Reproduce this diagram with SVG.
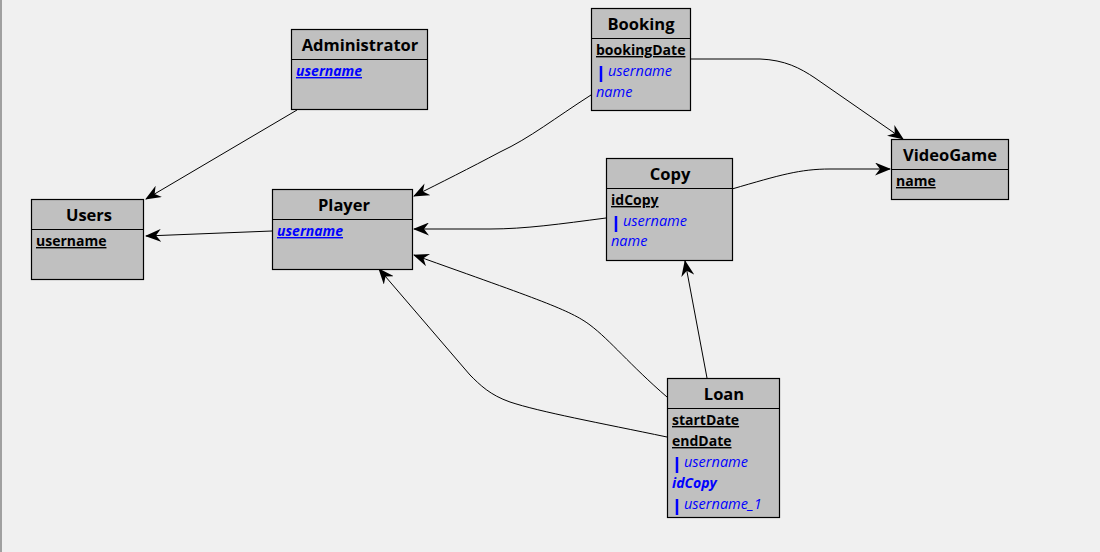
<svg xmlns="http://www.w3.org/2000/svg" width="1100" height="552" viewBox="0 0 1100 552">
<style>
.box{fill:#c0c0c0;stroke:#000;stroke-width:1.2}
.div{stroke:#000;stroke-width:1.2}
.title{font-family:"Open Sans","Noto Sans",sans-serif;font-weight:bold;font-size:16.5px;fill:#000;text-anchor:middle}
.pk{font-family:"Open Sans","Noto Sans",sans-serif;font-weight:bold;font-size:14px;fill:#000;text-decoration:underline}
.fk{font-family:"Open Sans","Noto Sans",sans-serif;font-style:italic;font-size:14.5px;fill:#0000ff}
.pkfk{font-family:"Open Sans","Noto Sans",sans-serif;font-style:italic;font-weight:bold;font-size:14px;fill:#0000ff;text-decoration:underline}
.fkb{font-family:"Open Sans","Noto Sans",sans-serif;font-style:italic;font-weight:bold;font-size:14px;fill:#0000ff}
.bar{stroke:#0000ff;stroke-width:2.5}
.edge{fill:none;stroke:#000;stroke-width:1}
</style>
<defs>
<marker id="arr" viewBox="0 0 16 13" refX="15" refY="6.5" markerWidth="16" markerHeight="13" markerUnits="userSpaceOnUse" orient="auto">
<path d="M0,0 L16,6.5 L0,13 L5,6.5 z" fill="#000"/>
</marker>
</defs>
<rect x="0" y="0" width="1100" height="552" fill="#f0f0f0"/>
<line x1="1" y1="0" x2="1" y2="552" stroke="#a0a0a0" stroke-width="2"/>

<g id="connectors">
<path class="edge" marker-end="url(#arr)" d="M297,110 L146,199"/>
<path class="edge" marker-end="url(#arr)" d="M272,231 L146,236"/>
<path class="edge" marker-end="url(#arr)" d="M591,95 C555,118 530,138 500,152 C470,168 440,183 414,196"/>
<path class="edge" marker-end="url(#arr)" d="M690,59 L760,59 C785,60 800,68 815,78 L903,139"/>
<path class="edge" marker-end="url(#arr)" d="M606,218 C560,224 525,229 490,229 L414,229"/>
<path class="edge" marker-end="url(#arr)" d="M732,189 C780,175 800,169 830,169 L890,169"/>
<path class="edge" marker-end="url(#arr)" d="M707,378 L685,261"/>
<path class="edge" marker-end="url(#arr)" d="M667,397 C630,365 610,340 590,325 C570,310 540,300 414,255"/>
<path class="edge" marker-end="url(#arr)" d="M667,437 C600,423 540,412 510,402 C490,395 480,385 470,375 L379,269"/>
</g>

<g id="Administrator">
<rect class="box" x="291.5" y="29.5" width="136" height="80"/>
<line class="div" x1="291.5" y1="59.5" x2="427.5" y2="59.5"/>
<text class="title" x="360" y="51">Administrator</text>
<text class="pkfk" x="296" y="76">username</text>
</g>

<g id="Booking">
<rect class="box" x="591.5" y="8.5" width="99" height="102"/>
<line class="div" x1="591.5" y1="38.5" x2="690.5" y2="38.5"/>
<text class="title" x="641" y="30">Booking</text>
<text class="pk" x="596" y="55">bookingDate</text>
<line class="bar" x1="601" y1="66" x2="601" y2="82"/>
<text class="fk" x="608" y="76">username</text>
<text class="fk" x="596" y="97">name</text>
</g>

<g id="Users">
<rect class="box" x="31.5" y="199.5" width="112" height="80"/>
<line class="div" x1="31.5" y1="229.5" x2="143.5" y2="229.5"/>
<text class="title" x="89" y="221">Users</text>
<text class="pk" x="36" y="246">username</text>
</g>

<g id="Player">
<rect class="box" x="272.5" y="189.5" width="140" height="80"/>
<line class="div" x1="272.5" y1="219.5" x2="412.5" y2="219.5"/>
<text class="title" x="344" y="211">Player</text>
<text class="pkfk" x="277" y="236">username</text>
</g>

<g id="Copy">
<rect class="box" x="606.5" y="158.5" width="126" height="102"/>
<line class="div" x1="606.5" y1="188.5" x2="732.5" y2="188.5"/>
<text class="title" x="670" y="180">Copy</text>
<text class="pk" x="611" y="205">idCopy</text>
<line class="bar" x1="616" y1="216" x2="616" y2="232"/>
<text class="fk" x="623" y="226">username</text>
<text class="fk" x="611" y="246">name</text>
</g>

<g id="VideoGame">
<rect class="box" x="891.5" y="139.5" width="117" height="60"/>
<line class="div" x1="891.5" y1="169.5" x2="1008.5" y2="169.5"/>
<text class="title" x="950" y="161">VideoGame</text>
<text class="pk" x="896" y="186">name</text>
</g>

<g id="Loan">
<rect class="box" x="667.5" y="378.5" width="112" height="139"/>
<line class="div" x1="667.5" y1="408.5" x2="779.5" y2="408.5"/>
<text class="title" x="724" y="400">Loan</text>
<text class="pk" x="672" y="425">startDate</text>
<text class="pk" x="672" y="446">endDate</text>
<line class="bar" x1="677" y1="457" x2="677" y2="473"/>
<text class="fk" x="684" y="467">username</text>
<text class="fkb" x="672" y="488">idCopy</text>
<line class="bar" x1="677" y1="499" x2="677" y2="515"/>
<text class="fk" x="684" y="509">username_1</text>
</g>
</svg>
